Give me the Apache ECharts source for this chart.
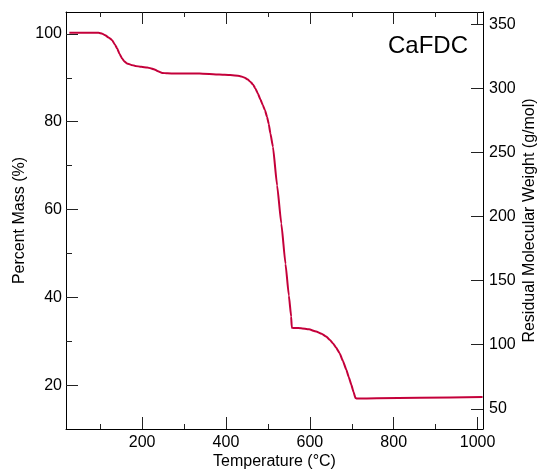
<!DOCTYPE html>
<html><head><meta charset="utf-8">
<script src="https://cdn.jsdelivr.net/npm/echarts@6/dist/echarts.min.js"></script>
<style>html,body{margin:0;padding:0;background:#fff}#c{width:540px;height:473px}</style>
</head><body><div id="c"></div>
<script>
// Temperature (°C)
const temperature = [26.5,50,80,96,105,112,120,128.7,135,140.6,146,152.3,158,164.2,174,184,198,212,220,228,238,248,260,280,337,384,410,432,443,452,458,464,470,476,482,488,493,498,502,506,512,522,532,542,550,555.5,556.8,558,565,579,598,615,628,639,648,655,663,671,679,687,693,699,704,709,712,760,862,1012];
// Percent mass (%)
const percentMass = [100.3,100.3,100.3,100.25,100.05,99.7,99.2,98.57,97.6,96.68,95.5,94.4,93.7,93.27,92.95,92.72,92.5,92.35,92.2,91.97,91.5,91.13,91.02,90.99,90.99,90.76,90.65,90.44,90.1,89.62,89.1,88.56,87.6,86.44,85.1,83.78,82.6,81.1,79.5,77.3,74.3,65.5,56.8,47.6,40.4,35.6,33.3,33.05,33.0,32.97,32.7,32.2,31.7,31.06,30.3,29.56,28.5,27.28,25.5,23.48,21.8,20.07,18.5,17.04,16.95,17.0,17.1,17.27];
const xMajorTicks = [200,400,600,800,1000];
const xMinorTicks = [100,300,500,700,900];
const leftMajorTicks = [20,40,60,80,100];
const leftMinorTicks = [30,50,70,90];
const rightTicks = [50,100,150,200,250,300,350];
const molarMass = 342.4;
const sampleName = 'CaFDC';

const xMin = 18.5, xMax = 1013, yMin = 10, yMax = 105;
const FONT = '"Liberation Sans", Arial, Helvetica, sans-serif';
const tickColor = '#222';
const fmt = v => String(v);

function xAx(pos, ticks, len, labels, showLine, extra) {
  return Object.assign({
    type: 'value', position: pos, min: xMin, max: xMax,
    axisLine: { show: showLine, onZero: false, lineStyle: { color: '#000', width: 1 } },
    axisTick: { show: true, inside: true, length: len, customValues: ticks, lineStyle: { color: tickColor, width: 1 } },
    axisLabel: labels ? { show: true, customValues: ticks, formatter: fmt, fontSize: 16, color: '#000', margin: 6, fontFamily: FONT } : { show: false },
    splitLine: { show: false }
  }, extra || {});
}
function yAx(pos, min, max, ticks, len, labels, showLine, extra) {
  return Object.assign({
    type: 'value', position: pos, min: min, max: max,
    axisLine: { show: showLine, onZero: false, lineStyle: { color: '#000', width: 1 } },
    axisTick: { show: true, inside: true, length: len, customValues: ticks, lineStyle: { color: tickColor, width: 1 } },
    axisLabel: labels ? { show: true, customValues: ticks, formatter: fmt, fontSize: 16, color: '#000', margin: pos === 'left' ? 4 : 6, fontFamily: FONT } : { show: false },
    splitLine: { show: false }
  }, extra || {});
}
const nameStyle = { fontSize: 16, color: '#000', fontFamily: FONT };

const chart = echarts.init(document.getElementById('c'), null, { renderer: 'canvas' });
chart.setOption({
  animation: false,
  backgroundColor: '#fff',
  grid: { left: 66, right: 57, top: 12, bottom: 44, containLabel: false, outerBoundsMode: 'none' },
  xAxis: [
    xAx('bottom', xMajorTicks, 12, true, true, { name: 'Temperature (°C)', nameLocation: 'middle', nameGap: 25, nameMoveOverlap: false, nameTextStyle: nameStyle }),
    xAx('bottom', xMinorTicks, 5, false, false),
    xAx('top', xMajorTicks, 12, false, true),
    xAx('top', xMinorTicks, 5, false, false)
  ],
  yAxis: [
    yAx('left', yMin, yMax, leftMajorTicks, 12, true, true, { name: 'Percent Mass (%)', nameLocation: 'middle', nameGap: 38, nameMoveOverlap: false, nameTextStyle: nameStyle }),
    yAx('left', yMin, yMax, leftMinorTicks, 6, false, false),
    yAx('right', yMin * molarMass / 100, yMax * molarMass / 100, rightTicks, 12, true, true, { name: 'Residual Molecular Weight (g/mol)', nameLocation: 'middle', nameGap: 39, nameMoveOverlap: false, nameTextStyle: nameStyle })
  ],
  graphic: [{
    type: 'text', left: 388, top: 34,
    style: { text: sampleName, fontSize: 24, fill: '#000', fontFamily: FONT }
  }],
  series: [{
    type: 'line', xAxisIndex: 0, yAxisIndex: 0,
    data: temperature.map((t, i) => [t, percentMass[i]]),
    showSymbol: false, smooth: 0.15, smoothMonotone: 'x',
    lineStyle: { color: '#c4003a', width: 2 }
  }]
});
</script>
</body></html>
